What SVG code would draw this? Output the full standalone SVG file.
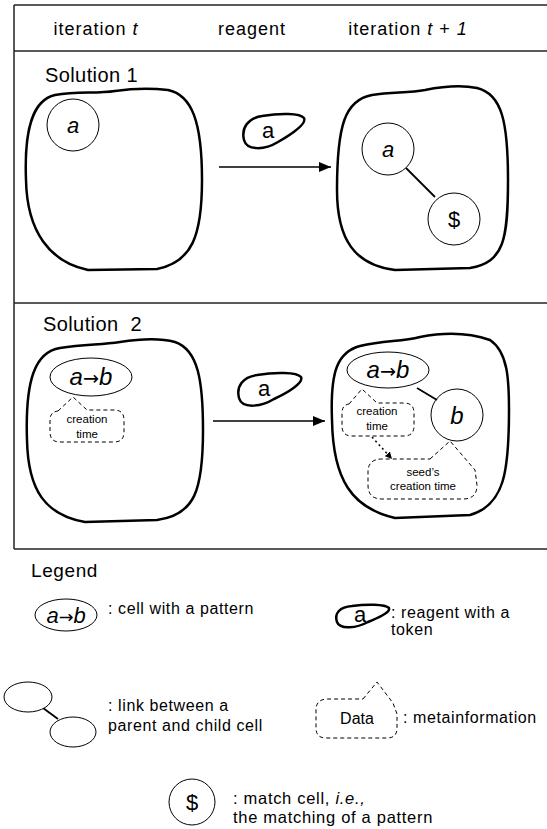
<svg xmlns="http://www.w3.org/2000/svg" width="547" height="829" viewBox="0 0 547 829">
  <defs>
    <marker id="arrowhead" viewBox="0 0 12 10" refX="12" refY="5" markerWidth="12" markerHeight="10" markerUnits="userSpaceOnUse" orient="auto">
      <path d="M0,0 L12,5 L0,10 Z" fill="#000"/>
    </marker>
    <marker id="small-head" viewBox="0 0 8 8" refX="8" refY="4" markerWidth="7" markerHeight="7" markerUnits="userSpaceOnUse" orient="auto">
      <path d="M0,0 L8,4 L0,8 Z" fill="#000"/>
    </marker>
  </defs>
  <style>
    text { font-family: "Liberation Sans", Arial, sans-serif; fill: #000; }
    .hdr { font-size: 18px; letter-spacing: 1px; text-anchor: middle; }
    .title { font-size: 20px; letter-spacing: 0.4px; white-space: pre; }
    .frame { stroke: #222; stroke-width: 1.5; fill: none; }
    .solution { fill: #fff; stroke: #000; stroke-width: 2.5; }
    .reagent { fill: #fff; stroke: #000; stroke-width: 2.5; }
    .cell { fill: #fff; stroke: #000; stroke-width: 1; }
    .link { stroke: #000; stroke-width: 1.8; }
    .edge { stroke: #000; stroke-width: 1.5; fill: none; }
    .meta { fill: #fff; stroke: #000; stroke-width: 1; stroke-dasharray: 4 3; }
    .sym { font-size: 22px; font-style: italic; text-anchor: middle; }
    .pat { font-size: 24px; font-style: italic; text-anchor: middle; }
    .arr { font-family: "DejaVu Sans", sans-serif; font-style: normal; font-size: 0.8em; }
    .tok { font-size: 22px; text-anchor: middle; }
    .small { font-size: 11.5px; text-anchor: middle; }
    .leg { font-size: 16px; letter-spacing: 0.6px; }
  </style>

  <!-- table frame -->
  <g id="frame">
    <line class="frame" x1="14" y1="5" x2="547" y2="5"/>
    <line class="frame" x1="14" y1="5" x2="14" y2="549"/>
    <line class="frame" x1="14" y1="51" x2="547" y2="51"/>
    <line class="frame" x1="14" y1="303" x2="547" y2="303"/>
    <line class="frame" x1="14" y1="549" x2="547" y2="549"/>
    <text class="hdr" x="96" y="35">iteration <tspan font-style="italic">t</tspan></text>
    <text class="hdr" x="252" y="35">reagent</text>
    <text class="hdr" x="408" y="35">iteration <tspan font-style="italic">t</tspan> + <tspan font-style="italic">1</tspan></text>
  </g>

  <!-- Solution 1 -->
  <text class="title" x="45" y="82">Solution 1</text>
  <g id="s1-before">
    <path class="solution" d="M26,180 C24,128 33,100 55,95 C78,91 96,94 115,91 C135,88 152,88 168,90 C192,95 202,122 202,180 C202,236 192,262 157,269 L88,270 C50,262 27,232 26,180 Z"/>
  </g>
  <g id="s1-before-a">
    <circle class="cell" cx="73" cy="125" r="26"/>
    <text class="sym" x="73" y="133">a</text>
  </g>
  <g id="s1-reagent">
    <path class="reagent" d="M244,140 C241,128 248,118 262,116 C280,113 300,113 304,118 C307,124 290,135 278,142 C265,150 247,151 244,140 Z"/>
    <text class="tok" x="268" y="138">a</text>
  </g>
  <g id="s1-after">
    <path class="solution" d="M337,190 C337,125 345,100 372,95 C393,92 408,93 425,90 C445,86 462,85 477,88 C502,94 508,122 508,180 C508,240 504,262 470,268 L395,270 C355,265 337,240 337,190 Z"/>
  </g>
  <g id="s1-after-a">
    <circle class="cell" cx="388" cy="149" r="26"/>
    <text class="sym" x="388" y="157">a</text>
  </g>
  <g id="s1-after-match">
    <circle class="cell" cx="454" cy="219" r="26"/>
    <text class="tok" x="454" y="227">$</text>
  </g>

  <!-- Solution 2 -->
  <text class="title" x="43" y="331" xml:space="preserve">Solution  2</text>
  <g id="s2-before">
    <path class="solution" d="M27,440 C25,380 35,352 60,348 C85,344 100,345 120,342 C140,339 160,338 175,342 C198,350 203,380 203,430 C203,490 195,515 157,520 L85,522 C45,515 28,490 27,440 Z"/>
  </g>
  <g id="s2-before-pattern">
    <ellipse class="cell" cx="91" cy="377" rx="41" ry="19"/>
    <text class="pat" x="91" y="385">a<tspan class="arr">→</tspan>b</text>
  </g>
  <g id="s2-before-time">
    <path class="meta" d="M58,411 L73,397 L87,410 L114,410 Q124,410 124,420 L124,432 Q124,442 114,442 L60,442 Q50,442 50,432 L50,420 Q50,412 58,411 Z"/>
    <text class="small" x="87" y="423">creation</text>
    <text class="small" x="87" y="438">time</text>
  </g>
  <g id="s2-reagent">
    <path class="reagent" d="M239,398 C236,386 243,377 257,375 C275,372 297,372 301,377 C304,383 287,393 274,399 C261,407 242,409 239,398 Z"/>
    <text class="tok" x="264" y="396">a</text>
  </g>
  <g id="s2-after">
    <path class="solution" d="M332,420 C330,370 338,352 360,346 C385,340 400,342 420,337 C445,332 470,333 490,340 C508,352 509,380 509,410 C509,470 505,505 470,515 L395,518 C352,508 333,480 332,420 Z"/>
  </g>
  <g id="s2-after-pattern">
    <ellipse class="cell" cx="388" cy="370" rx="41" ry="18"/>
    <text class="pat" x="388" y="378">a<tspan class="arr">→</tspan>b</text>
  </g>
  <g id="s2-after-b">
    <circle class="cell" cx="457" cy="415" r="26"/>
    <text class="pat" x="457" y="424">b</text>
  </g>
  <g id="s2-after-time">
    <path class="meta" d="M349,404 L362,389 L377,403 L404,403 Q414,403 414,413 L414,426 Q414,436 404,436 L352,436 Q342,436 342,426 L342,413 Q342,405 349,404 Z"/>
    <text class="small" x="377" y="415">creation</text>
    <text class="small" x="377" y="430">time</text>
  </g>
  <g id="s2-after-seed-time">
    <path class="meta" d="M430,459 L450,441 L475,470 L477,485 Q477,499 463,499 L382,499 Q368,499 368,485 L368,472 Q368,459 382,459 Z"/>
    <text class="small" x="423" y="476">seed’s</text>
    <text class="small" x="423" y="490">creation time</text>
  </g>

  <!-- connectors -->
  <g id="connectors">
    <line class="edge" x1="219" y1="167" x2="331" y2="167" marker-end="url(#arrowhead)"/>
    <line class="edge" x1="213" y1="421" x2="325" y2="421" marker-end="url(#arrowhead)"/>
    <line class="link" x1="406" y1="168" x2="435" y2="197"/>
    <line class="link" x1="417" y1="388" x2="437" y2="400"/>
    <line stroke="#000" stroke-width="1.5" stroke-dasharray="2 3" x1="372" y1="437" x2="392" y2="459" marker-end="url(#small-head)"/>
  </g>

  <!-- legend -->
  <text x="31" y="577" style="font-size:19px;letter-spacing:0.6px">Legend</text>
  <g id="legend-pattern">
    <ellipse class="cell" cx="66" cy="615" rx="31" ry="16"/>
    <text class="pat" x="66" y="623" style="font-size:22px">a<tspan class="arr">→</tspan>b</text>
    <text class="leg" x="108" y="614">: cell with a pattern</text>
  </g>
  <g id="legend-reagent">
    <path class="reagent" d="M337,622 C334,613 340,607 352,606 C366,604 385,604 389,608 C391,612 378,618 368,622 C357,628 340,630 337,622 Z"/>
    <text class="tok" x="360" y="622">a</text>
    <text class="leg" x="391" y="618">: reagent with a</text>
    <text class="leg" x="391" y="635">token</text>
  </g>
  <g id="legend-link">
    <line class="link" x1="43" y1="708" x2="58" y2="719"/>
    <ellipse class="cell" cx="28" cy="697" rx="24" ry="15"/>
    <ellipse class="cell" cx="73" cy="732" rx="23" ry="15"/>
    <text class="leg" x="108" y="711">: link between a</text>
    <text class="leg" x="108" y="731">parent and child cell</text>
  </g>
  <g id="legend-meta">
    <path class="meta" d="M363,699 L377,682 L393,703 L397,714 L397,728 Q397,738 387,738 L326,738 Q316,738 316,728 L316,710 Q316,699 328,699 Z"/>
    <text x="357" y="724" style="font-size:16px;text-anchor:middle">Data</text>
    <text class="leg" x="403" y="723">: metainformation</text>
  </g>
  <g id="legend-match">
    <circle class="cell" cx="192" cy="802" r="23"/>
    <text class="tok" x="192" y="810">$</text>
    <text class="leg" x="233" y="804" style="font-size:16.5px;letter-spacing:0.7px">: match cell, <tspan font-style="italic">i.e.,</tspan></text>
    <text class="leg" x="233" y="823" style="font-size:16.5px;letter-spacing:0.7px">the matching of a pattern</text>
  </g>
</svg>
